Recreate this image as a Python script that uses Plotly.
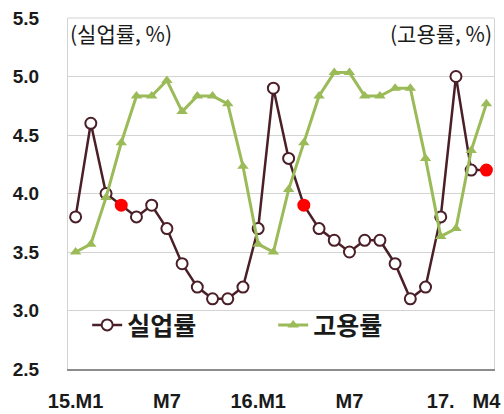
import plotly.graph_objects as go

# ---- data ----
months = [f"{y}.M{m}" for y in (15, 16) for m in range(1, 13)] + [f"17.M{m}" for m in range(1, 5)]
unemployment = [3.8, 4.6, 4.0, 3.9, 3.8, 3.9, 3.7, 3.4, 3.2, 3.1, 3.1, 3.2,
                3.7, 4.9, 4.3, 3.9, 3.7, 3.6, 3.5, 3.6, 3.6, 3.4, 3.1, 3.2,
                3.8, 5.0, 4.2, 4.2]
employment = [58.7, 58.8, 59.4, 60.1, 60.7, 60.7, 60.9, 60.5, 60.7, 60.7, 60.6, 59.8,
              58.8, 58.7, 59.5, 60.1, 60.7, 61.0, 61.0, 60.7, 60.7, 60.8, 60.8, 59.9,
              58.9, 59.0, 60.0, 60.6]
highlight_months = ["15.M4", "16.M4", "17.M4"]
tick_vals = ["15.M1", "15.M7", "16.M1", "16.M7", "17.M1", "17.M4"]
tick_text = ["15.M1", "M7", "16.M1", "M7", "17.", "M4"]
y_ticks = [2.5, 3.0, 3.5, 4.0, 4.5, 5.0, 5.5]

BROWN = "#4A1F28"
GREEN = "#9BBB59"
RED = "#FF0000"
FONT = "Noto Sans CJK KR"

fill_colors = [RED if m in highlight_months else "white" for m in months]
edge_colors = [RED if m in highlight_months else BROWN for m in months]

fig = go.Figure()
fig.add_trace(go.Scatter(
    x=months, y=unemployment, name="실업률", mode="lines+markers",
    line=dict(color=BROWN, width=2.5),
    marker=dict(symbol="circle", size=11, color=fill_colors,
                line=dict(color=edge_colors, width=2)),
))
fig.add_trace(go.Scatter(
    x=months, y=employment, name="고용률", mode="lines+markers", yaxis="y2",
    line=dict(color=GREEN, width=3),
    marker=dict(symbol="triangle-up", size=10, color=GREEN),
))

fig.update_layout(
    width=504, height=414,
    margin=dict(l=68, r=10, t=18, b=45, autoexpand=False),
    paper_bgcolor="white", plot_bgcolor="white",
    font=dict(family=FONT, color="#1A1A1A"),
    showlegend=True,
    legend=dict(orientation="h", x=0.045, y=0.125, xanchor="left", yanchor="middle",
                bgcolor="rgba(0,0,0,0)", font=dict(size=25, family=FONT, weight="bold"),
                itemwidth=30, entrywidth=141, entrywidthmode="pixels", tracegroupgap=0),
    xaxis=dict(type="category", range=[-0.5, len(months) - 0.5], autorange=False,
               tickmode="array", tickvals=tick_vals, ticktext=tick_text,
               showgrid=False, showline=True, linecolor="#8C8C8C", linewidth=1.5,
               ticks="", ticklabelstandoff=13, automargin=False,
               tickfont=dict(size=20, family="Liberation Sans", weight="bold", color="#1A1A1A")),
    yaxis=dict(range=[2.5, 5.5], autorange=False, tickmode="array", tickvals=y_ticks,
               ticktext=[f"{v:.1f}" for v in y_ticks],
               showgrid=True, gridcolor="#D3D3D3", gridwidth=1,
               showline=True, linecolor="#D3D3D3", mirror=True, zeroline=False,
               ticks="", ticklabelstandoff=24, automargin=False,
               tickfont=dict(size=19, family="Liberation Sans", weight="bold", color="#1A1A1A")),
    yaxis2=dict(range=[57.2, 61.7], autorange=False, overlaying="y", side="right",
                showgrid=False, showticklabels=False, zeroline=False, showline=False,
                automargin=False),
    shapes=[dict(type="line", xref="paper", yref="paper", x0=0, x1=1, y0=1, y1=1,
                 line=dict(color="#D3D3D3", width=1))],
    annotations=[
        dict(text="(실업률, %)", xref="paper", yref="paper", x=0.0, y=0.957,
             xanchor="left", yanchor="middle", showarrow=False,
             font=dict(size=21, family=FONT, color="#1A1A1A")),
        dict(text="(고용률, %)", xref="paper", yref="paper", x=1.0, y=0.957,
             xanchor="right", yanchor="middle", showarrow=False,
             font=dict(size=21, family=FONT, color="#1A1A1A")),
    ],
)

fig.write_html("out.html")
